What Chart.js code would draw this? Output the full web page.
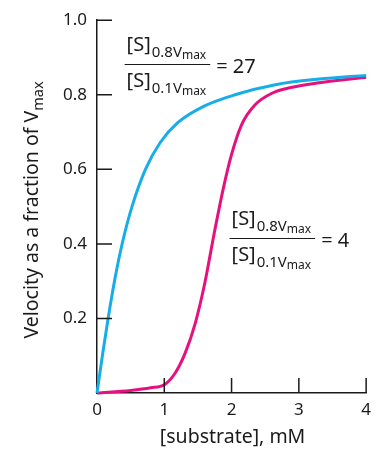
<!DOCTYPE html>
<html>
<head>
<meta charset="utf-8">
<script src="https://cdn.jsdelivr.net/npm/chart.js@4"></script>
<style>
  html, body { margin: 0; padding: 0; background: #fff; }
  #wrap { width: 378px; height: 452px; }
</style>
</head>
<body>
<div id="wrap"><canvas id="chart" width="378" height="452"></canvas></div>
<script>
// blue curve: hyperbolic (Michaelis-Menten) kinetics
const hypS = [0, 0.08, 0.165, 0.27, 0.38, 0.52, 0.72, 0.94, 1.2, 1.6, 2.05, 2.65, 3.3, 4.0];
const hypV = [0, 0.1, 0.2, 0.31, 0.405, 0.5, 0.6, 0.672, 0.725, 0.77, 0.8, 0.827, 0.842, 0.852];

// magenta curve: sigmoidal (allosteric) kinetics
const sigS = [0, 0.5, 0.8, 1.0, 1.16, 1.31, 1.46, 1.6, 1.75, 1.88, 2.0, 2.15, 2.35, 2.6, 2.9, 3.3, 3.7, 4.0];
const sigV = [0, 0.007, 0.014, 0.022, 0.053, 0.107, 0.187, 0.293, 0.436, 0.551, 0.64, 0.72, 0.773, 0.804, 0.82, 0.832, 0.841, 0.847];

const xTicks = [0, 1, 2, 3, 4];
const yTicks = [0.2, 0.4, 0.6, 0.8, 1.0];
const xTitle = '[substrate], mM';
const yTitle = 'Velocity as a fraction of V';
const ratioLabels = [
    { s: 0.41, v: 0.883, num: '0.8V', den: '0.1V', value: '27' },
    { s: 1.97, v: 0.416, num: '0.8V', den: '0.1V', value: '4' }
];

const FONT = '"Noto Sans", sans-serif';
const INK = '#1a1a1a';

function toPoints(xs, ys) {
    return xs.map((x, i) => ({ x: x, y: ys[i] }));
}

const decorPlugin = {
    id: 'decor',
    afterDatasetsDraw(chart) {
        const ctx = chart.ctx;
        const xs = chart.scales.x, ys = chart.scales.y;
        const area = chart.chartArea;
        ctx.save();

        // inward tick marks
        ctx.strokeStyle = INK;
        ctx.lineWidth = 1.5;
        ctx.beginPath();
        yTicks.forEach(v => {
            const py = ys.getPixelForValue(v);
            ctx.moveTo(area.left, py);
            ctx.lineTo(area.left + 15, py);
        });
        xTicks.slice(1).forEach(s => {
            const px = xs.getPixelForValue(s);
            ctx.moveTo(px, area.bottom);
            ctx.lineTo(px, area.bottom - 15);
        });
        ctx.stroke();

        // ratio annotations
        ctx.fillStyle = INK;
        ctx.textAlign = 'left';
        ctx.textBaseline = 'alphabetic';
        ratioLabels.forEach(r => {
            const left = xs.getPixelForValue(r.s);
            const barY = Math.round(ys.getPixelForValue(r.v)) + 0.5;
            const rows = [
                { sub: r.num, base: barY - 14 },
                { sub: r.den, base: barY + 22 }
            ];
            let maxX = left;
            rows.forEach(row => {
                let x = left + 2;
                ctx.font = '20px ' + FONT;
                ctx.fillText('[S]', x, row.base);
                x += ctx.measureText('[S]').width + 1;
                ctx.font = '15px ' + FONT;
                ctx.fillText(row.sub, x, row.base + 6);
                x += ctx.measureText(row.sub).width;
                ctx.font = '12px ' + FONT;
                ctx.fillText('max', x, row.base + 8);
                x += ctx.measureText('max').width;
                maxX = Math.max(maxX, x);
            });
            ctx.lineWidth = 1;
            ctx.beginPath();
            ctx.moveTo(left, barY);
            ctx.lineTo(maxX + 4, barY);
            ctx.stroke();
            ctx.font = '20px ' + FONT;
            ctx.fillText('= ' + r.value, maxX + 10, barY + 8);
        });

        // x axis title
        ctx.font = '19.5px ' + FONT;
        ctx.textAlign = 'center';
        ctx.fillText(xTitle, (area.left + area.right) / 2 + 1, 443);

        // y axis title with subscript
        ctx.translate(38, 210);
        ctx.rotate(-Math.PI / 2);
        ctx.textAlign = 'left';
        ctx.font = '19.5px ' + FONT;
        const mainW = ctx.measureText(yTitle).width;
        ctx.font = '14.5px ' + FONT;
        const subW = ctx.measureText('max').width;
        const start = -(mainW + subW) / 2;
        ctx.font = '19.5px ' + FONT;
        ctx.fillText(yTitle, start, 0);
        ctx.font = '14.5px ' + FONT;
        ctx.fillText('max', start + mainW, 5);

        ctx.restore();
    }
};

new Chart(document.getElementById('chart'), {
    type: 'line',
    data: {
        datasets: [
            {
                label: 'hyperbolic',
                data: toPoints(hypS, hypV),
                borderColor: '#17ade8',
                borderWidth: 3,
                pointRadius: 0,
                cubicInterpolationMode: 'monotone',
                clip: false
            },
            {
                label: 'sigmoidal',
                data: toPoints(sigS, sigV),
                borderColor: '#e6117f',
                borderWidth: 3,
                pointRadius: 0,
                cubicInterpolationMode: 'monotone',
                clip: false
            }
        ]
    },
    options: {
        responsive: false,
        animation: false,
        devicePixelRatio: 1,
        layout: { padding: { top: 19, right: 11, left: 0, bottom: 0 } },
        plugins: {
            legend: { display: false },
            tooltip: { enabled: false }
        },
        scales: {
            x: {
                type: 'linear',
                min: 0,
                max: 4,
                afterFit: s => { s.height = 59; },
                afterBuildTicks: s => { s.ticks = xTicks.map(v => ({ value: v })); },
                grid: { display: false, drawTicks: false },
                border: { display: true, color: INK, width: 1.5 },
                ticks: {
                    padding: 7,
                    color: INK,
                    font: { family: FONT, size: 17 },
                    callback: v => String(v)
                }
            },
            y: {
                type: 'linear',
                min: 0,
                max: 1,
                afterFit: s => { s.width = 97; },
                afterBuildTicks: s => { s.ticks = yTicks.map(v => ({ value: v })); },
                grid: { display: false, drawTicks: false },
                border: { display: true, color: INK, width: 1.5 },
                ticks: {
                    padding: 10,
                    color: INK,
                    font: { family: FONT, size: 17 },
                    callback: v => v.toFixed(1)
                }
            }
        }
    },
    plugins: [decorPlugin]
});
</script>
</body>
</html>
